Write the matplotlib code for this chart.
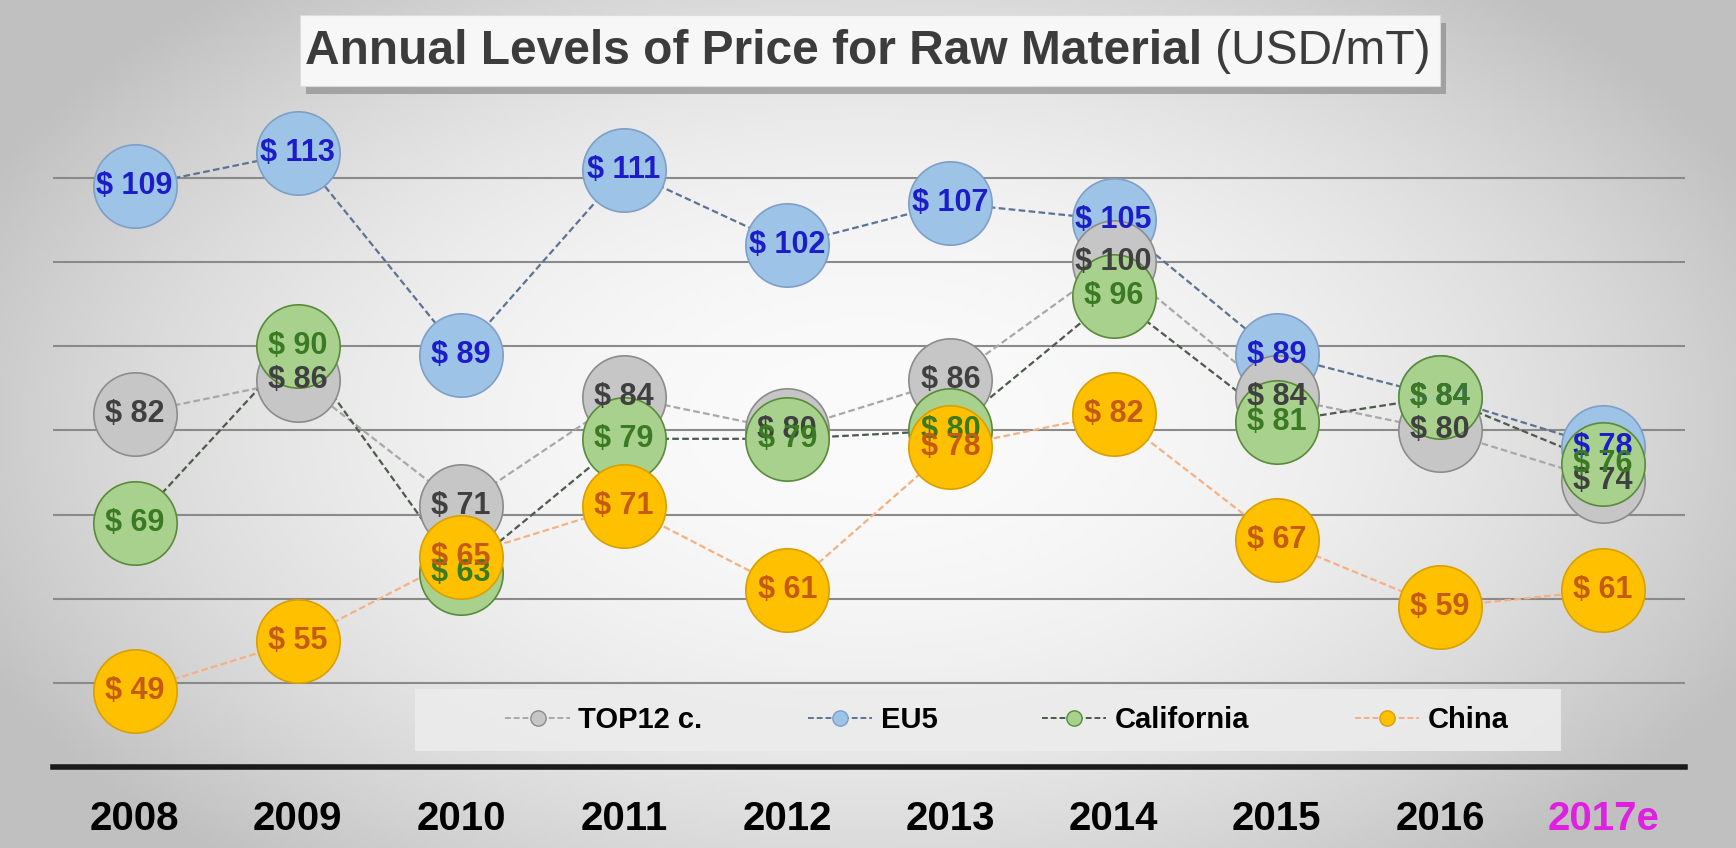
import numpy as np
import matplotlib
matplotlib.use("Agg")
import matplotlib.pyplot as plt
from matplotlib.lines import Line2D
from matplotlib.patches import Rectangle
from matplotlib.text import Annotation

# data (USD/mT)
years = ["2008", "2009", "2010", "2011", "2012", "2013", "2014", "2015", "2016", "2017e"]
top12 = [82, 86, 71, 84, 80, 86, 100, 84, 80, 74]
eu5 = [109, 113, 89, 111, 102, 107, 105, 89, 84, 78]
california = [69, 90, 63, 79, 79, 80, 96, 81, 84, 76]
china = [49, 55, 65, 71, 61, 78, 82, 67, 59, 61]

plt.rcParams["font.family"] = ["Liberation Sans", "DejaVu Sans"]

fig = plt.figure(figsize=(17.36, 8.48), dpi=100)

# soft radial grey background
bg = fig.add_axes([0, 0, 1, 1], zorder=-10)
gx, gy = np.meshgrid(np.linspace(0, 1, 400), np.linspace(0, 1, 200))
r2 = ((gx - 0.5) / 0.5) ** 2 + ((gy - 0.5) / 0.6) ** 2
shade = np.clip(251 - 46 * r2, 192, 255) / 255.0
bg.imshow(np.dstack([shade, shade, shade]), extent=(0, 1, 0, 1), aspect="auto", origin="lower")
bg.axis("off")

ax = fig.add_axes([0.0305, 0.0955, 0.940, 0.784])
ax.patch.set_visible(False)
x = np.arange(len(years))

series = [
    # label, values, line colour, face, edge, text colour
    ("EU5", eu5, "#5d7394", "#9dc3e6", "#7f9fc8", "#1c1cc8"),
    ("TOP12 c.", top12, "#a8a8a8", "#c6c6c6", "#8c8c8c", "#404040"),
    ("California", california, "#4d5a4d", "#a9d18e", "#5a8a3a", "#3a7a22"),
    ("China", china, "#f4b183", "#ffc000", "#d9a000", "#c55a11"),
]

for lab, vals, lc, fc, ec, tc in series:
    ax.plot(x, vals, linestyle=(0, (3, 1.5)), color=lc, lw=1.6, zorder=2)
for i, (lab, vals, lc, fc, ec, tc) in enumerate(series):
    ax.plot(x, vals, linestyle="none", marker="o", markersize=60,
            markerfacecolor=fc, markeredgecolor=ec, markeredgewidth=1.2,
            zorder=3 + i, clip_on=False)
for i, (lab, vals, lc, fc, ec, tc) in enumerate(series):
    for xi, v in zip(x, vals):
        ax.text(xi, v, f"$ {v}", ha="center", va="center", fontsize=22,
                fontweight="bold", color=tc, zorder=10 + i)

ax.set_xlim(-0.5, 9.5)
ax.set_ylim(40, 119)
ax.set_yticks([50, 60, 70, 80, 90, 100, 110])
ax.yaxis.grid(True, color="#8a8a8a", lw=1.5)
ax.set_axisbelow(True)
ax.tick_params(axis="y", length=0, labelleft=False)
for s in ["top", "left", "right"]:
    ax.spines[s].set_visible(False)
ax.spines["bottom"].set_linewidth(4)
ax.spines["bottom"].set_color("#1a1a1a")
ax.set_xticks(x)
ax.set_xticklabels(years, fontsize=29, fontweight="bold")
ax.tick_params(axis="x", length=0, pad=24)
ax.get_xticklabels()[-1].set_color("#e020e0")

# legend with its own light box
fig.patches.append(Rectangle((415 / 1736, 1 - 751 / 848), 1146 / 1736, 62 / 848,
                             transform=fig.transFigure, facecolor="#ececec",
                             edgecolor="none", alpha=0.9, zorder=20))
handles = [Line2D([], [], linestyle=(0, (3, 1.5)), color=s[2], lw=1.4, marker="o",
                  markersize=11, markerfacecolor=s[3], markeredgecolor=s[4])
           for s in [series[1], series[0], series[2], series[3]]]
leg = fig.legend(handles, ["TOP12 c.", "EU5", "California", "China"], ncol=4,
                 loc="center", bbox_to_anchor=(1007 / 1736, 1 - 720 / 848),
                 frameon=False, handlelength=2.2, handletextpad=0.3,
                 columnspacing=3.6, prop={"weight": "bold", "size": 21})
leg.set_zorder(21)

# title in a shadowed box
fig.patches.append(Rectangle((306 / 1736, 1 - 94 / 848), 1140 / 1736, 71 / 848,
                             transform=fig.transFigure, facecolor="#7a7a7a",
                             edgecolor="none", alpha=0.55, zorder=1))
fig.patches.append(Rectangle((300 / 1736, 1 - 86 / 848), 1140 / 1736, 71 / 848,
                             transform=fig.transFigure, facecolor="#f7f7f7",
                             edgecolor="#dddddd", lw=0.8, zorder=2))
t1 = fig.text(305 / 1736, 1 - 51 / 848, "Annual Levels of Price for Raw Material ",
              ha="left", va="center", fontsize=34.5, fontweight="bold",
              color="#3c3c3c", zorder=3)
t2 = Annotation("(USD/mT)", xy=(1, 0.5), xycoords=t1, va="center", ha="left",
                fontsize=34.5, color="#3c3c3c", annotation_clip=False)
t2.set_zorder(3)
fig.add_artist(t2)

fig.savefig("out.png", dpi=100)
